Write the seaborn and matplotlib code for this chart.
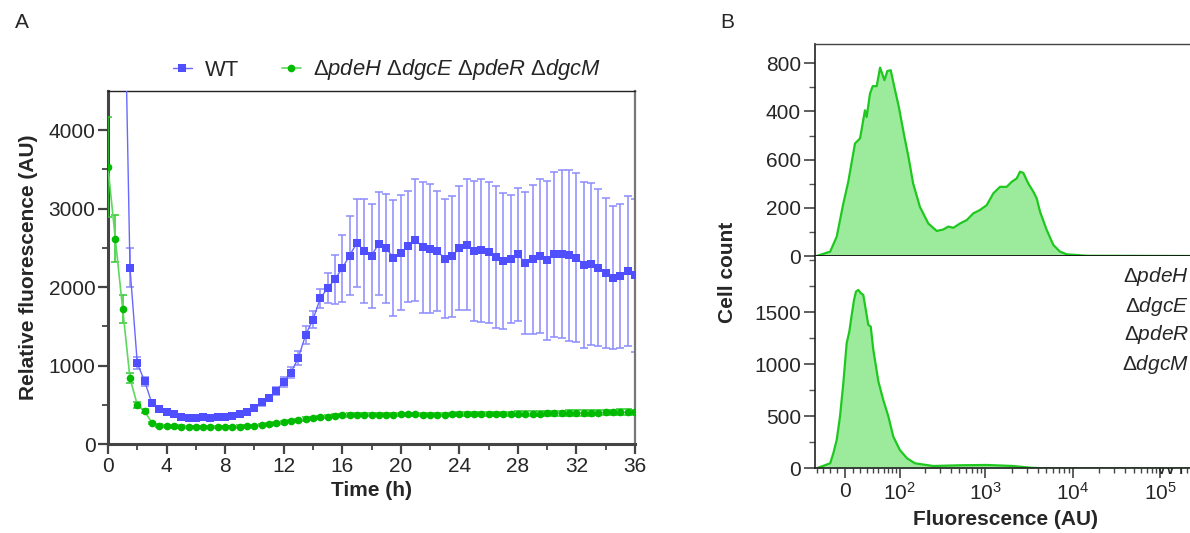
import numpy as np
import pandas as pd
import matplotlib
matplotlib.use("Agg")
import matplotlib.pyplot as plt
import seaborn as sns
from matplotlib.ticker import FixedLocator
from matplotlib.lines import Line2D

# ---------------- data ----------------
time_h = [0, 0.5, 1, 1.5, 2, 2.5, 3, 3.5, 4, 4.5, 5, 5.5, 6, 6.5, 7, 7.5, 8, 8.5, 9, 9.5,
          10, 10.5, 11, 11.5, 12, 12.5, 13, 13.5, 14, 14.5, 15, 15.5, 16, 16.5, 17, 17.5,
          18, 18.5, 19, 19.5, 20, 20.5, 21, 21.5, 22, 22.5, 23, 23.5, 24, 24.5, 25, 25.5,
          26, 26.5, 27, 27.5, 28, 28.5, 29, 29.5, 30, 30.5, 31, 31.5, 32, 32.5, 33, 33.5,
          34, 34.5, 35, 35.5, 36]

wt_mean = [12000, 10000, 7200, 2250, 1030, 800, 520, 450, 410, 380, 350, 330, 330, 340, 330, 340,
           345, 360, 380, 410, 460, 530, 590, 680, 790, 911, 1098, 1390, 1585, 1855, 1988, 2100,
           2240, 2402, 2562, 2460, 2402, 2554, 2496, 2374, 2440, 2518, 2604, 2509, 2492, 2460,
           2363, 2395, 2496, 2543, 2460, 2469, 2443, 2384, 2333, 2358, 2418, 2308, 2355, 2397,
           2342, 2418, 2418, 2405, 2376, 2282, 2295, 2249, 2181, 2122, 2142, 2206, 2151]
wt_sd = [0, 0, 0, 250, 80, 60, 40, 30, 30, 30, 30, 30, 30, 30, 30, 30,
         30, 30, 30, 40, 40, 40, 40, 50, 60, 70, 90, 120, 110, 127, 195, 310,
         425, 508, 555, 667, 663, 656, 695, 736, 735, 708, 775, 833, 822, 768,
         760, 770, 793, 834, 894, 911, 898, 902, 864, 820, 849, 900, 953, 980,
         1010, 1052, 1072, 1091, 1082, 1057, 1027, 1006, 960, 917, 913, 961, 975]

mut_mean = [3530, 2614, 1725, 840, 500, 420, 270, 235, 230, 225, 222, 220, 218, 218, 218, 218,
            218, 220, 222, 225, 232, 240, 250, 262, 275, 290, 305, 318, 330, 340, 350, 358,
            365, 370, 372, 372, 372, 372, 375, 375, 378, 378, 378, 376, 376, 376, 376, 377,
            378, 378, 380, 380, 380, 382, 382, 383, 385, 386, 388, 388, 390, 391, 392, 394,
            395, 396, 398, 400, 402, 404, 406, 405, 403]
mut_sd = [640, 300, 180, 60, 40, 30, 15, 15, 15, 15, 15, 15, 15, 15, 15, 15,
          15, 15, 15, 15, 15, 15, 15, 15, 15, 15, 20, 20, 20, 20, 20, 20,
          20, 20, 20, 20, 20, 20, 20, 20, 20, 20, 20, 20, 20, 20, 20, 20,
          25, 25, 25, 25, 25, 25, 25, 25, 30, 30, 30, 30, 35, 35, 35, 35,
          35, 35, 35, 35, 35, 35, 35, 35, 35]

# flow cytometry histograms (fluorescence AU, cell count)
wt_fl = [-41, -20, -11, -2.2, 4.3, 13.3, 20.3, 27.5, 30.1, 35.3, 39.8, 46.7, 53, 61.7, 68.1,
         75.8, 83.7, 97, 113, 128, 146, 176, 221, 277, 330, 377, 431, 514, 614, 731, 872,
         1040, 1238, 1477, 1761, 2010, 2292, 2500, 2727, 3110, 3548, 3880, 4233, 5047,
         6005, 7163, 8544, 14470, 250000]
wt_count = [0, 18, 80, 218, 308, 467, 488, 605, 577, 674, 705, 705, 782, 730, 768,
            771, 709, 619, 502, 412, 301, 204, 135, 104, 110, 122, 117, 135, 149, 177, 191,
            211, 260, 287, 287, 308, 322, 350, 345, 301, 267, 239, 184, 108,
            46, 18, 7, 1, 0]

mut_fl = [-41, -20, -15.6, -11, -6.6, -2.2, 2.2, 5.7, 8.9, 12, 14.7, 17.9, 21.3, 25, 27.5,
          32.6, 36.5, 40.8, 49.8, 59.3, 70.4, 82, 100, 123, 154, 253, 514, 1040, 2097,
          3253, 4616, 250000]
mut_count = [0, 48, 144, 272, 497, 817, 1202, 1314, 1474, 1618, 1699, 1714, 1683, 1666, 1570,
             1378, 1362, 1138, 834, 657, 497, 305, 176, 96, 48, 22, 29, 32, 22,
             6, 0, 0]

left_yticks = [0, 1000, 2000, 3000, 4000]
left_xticks = [0, 4, 8, 12, 16, 20, 24, 28, 32, 36]
top_yticks = [0, 200, 400, 600, 800]
top_ylabels = ["0", "200", "600", "400", "800"]
bot_yticks = [0, 500, 1000, 1500]
fl_ticks = [0, 100, 1000, 10000, 100000]
fl_labels = ["0", "$10^{2}$", "$10^{3}$", "$10^{4}$", "$10^{5}$"]
mutant_lines = ["pdeH", "dgcE", "pdeR", "dgcM"]

# ---------------- style ----------------
sns.set_theme(style="ticks")
plt.rcParams["font.family"] = ["Liberation Sans", "DejaVu Sans"]
plt.rcParams["mathtext.fontset"] = "custom"
plt.rcParams["mathtext.rm"] = "Liberation Sans"
plt.rcParams["mathtext.it"] = "Liberation Sans:italic"
plt.rcParams["mathtext.bf"] = "Liberation Sans:bold"
plt.rcParams["axes.unicode_minus"] = False

W, H = 1190, 533
fig = plt.figure(figsize=(W / 100, H / 100), dpi=100)
fig.patch.set_facecolor("white")

def box(x0, y0, x1, y1):
    return [x0 / W, 1 - y1 / H, (x1 - x0) / W, (y1 - y0) / H]

FS = 15
WT_LINE = "#6868ff"
WT_MARK = "#4f4fff"
WT_ERR = "#8c8cff"
MU_LINE = "#5fd85f"
MU_MARK = "#00bb00"
MU_ERR = "#2fc82f"

# ---------------- panel A ----------------
ax = fig.add_axes(box(108, 91, 635, 444))
df_wt = pd.DataFrame({"t": time_h, "v": wt_mean, "e": wt_sd})
df_mu = pd.DataFrame({"t": time_h, "v": mut_mean, "e": mut_sd})

ax.errorbar(df_wt["t"], df_wt["v"], yerr=df_wt["e"], fmt="none", ecolor=WT_ERR,
            elinewidth=1.1, capsize=3, capthick=1.1, zorder=2)
sns.lineplot(data=df_wt, x="t", y="v", ax=ax, color=WT_LINE, lw=1.0, marker="s",
             markersize=6, markeredgewidth=0, markerfacecolor=WT_MARK, zorder=3)
ax.errorbar(df_mu["t"], df_mu["v"], yerr=df_mu["e"], fmt="none", ecolor=MU_ERR,
            elinewidth=1.1, capsize=3, capthick=1.1, zorder=4)
sns.lineplot(data=df_mu, x="t", y="v", ax=ax, color=MU_LINE, lw=1.2, marker="o",
             markersize=5.5, markeredgewidth=0, markerfacecolor=MU_MARK, zorder=5)

ax.set_xlim(0, 36)
ax.set_ylim(0, 4500)
ax.set_xticks(left_xticks)
ax.xaxis.set_minor_locator(FixedLocator([2, 6, 10, 14, 18, 22, 26, 30, 34]))
ax.set_yticks(left_yticks)
ax.yaxis.set_minor_locator(FixedLocator([500, 1500, 2500, 3500]))
for s in ["left", "bottom"]:
    ax.spines[s].set_linewidth(2.2)
    ax.spines[s].set_color("#444444")
ax.spines["top"].set_linewidth(1.0)
ax.spines["top"].set_color("#222222")
ax.spines["right"].set_linewidth(1.6)
ax.spines["right"].set_color("#777777")
ax.tick_params(axis="both", which="major", length=7, width=1.6, color="#444444",
               labelsize=FS, pad=2, direction="out")
ax.tick_params(axis="both", which="minor", length=4, width=1.3, color="#444444",
               direction="out")
ax.tick_params(top=False, right=False, which="both")
ax.set_xlabel("Time (h)", fontsize=FS, fontweight="bold", labelpad=4)
ax.set_ylabel("Relative fluorescence (AU)", fontsize=FS, fontweight="bold", labelpad=8)
ax.grid(False)

mut_label = " ".join("\u0394$\\mathit{%s}$" % g for g in mutant_lines)
handles = [
    Line2D([], [], color=WT_LINE, lw=1.0, marker="s", markersize=6,
           markeredgewidth=0, markerfacecolor=WT_MARK),
    Line2D([], [], color=MU_LINE, lw=1.2, marker="o", markersize=5.5,
           markeredgewidth=0, markerfacecolor=MU_MARK),
]
fig.legend(handles, ["WT", mut_label], loc="center left",
           bbox_to_anchor=(173 / W, 1 - 70 / H), ncol=2, frameon=False,
           fontsize=15.8, handlelength=0.86, handletextpad=0.59, columnspacing=1.94,
           borderpad=0, borderaxespad=0)

fig.text(15 / W, 1 - 22 / H, "A", fontsize=FS, ha="left", va="center")
fig.text(720 / W, 1 - 22 / H, "B", fontsize=FS, ha="left", va="center")

# ---------------- panel B ----------------
FILL = "#9ceb9c"
EDGE = "#1ec81e"
xl = (-43.7, 256500)

axT = fig.add_axes(box(815, 44, 1196, 256))
axB = fig.add_axes(box(815, 256, 1196, 468.3))

for a, fl, cnt in [(axT, wt_fl, wt_count), (axB, mut_fl, mut_count)]:
    a.set_xscale("asinh", linear_width=50)
    a.fill_between(fl, cnt, 0, color=FILL, lw=0, zorder=1)
    sns.lineplot(x=fl, y=cnt, ax=a, color=EDGE, lw=1.6, zorder=2, sort=False)
    a.set_xlim(*xl)
    a.grid(False)
    a.set_xlabel("")
    a.set_ylabel("")
    a.spines["right"].set_visible(False)
    a.spines["left"].set_linewidth(1.2)
    a.spines["left"].set_color("#222222")
    a.tick_params(axis="y", which="major", length=8, width=1.1, color="#333333",
                  labelsize=FS, pad=2)
    a.tick_params(axis="y", which="minor", length=4, width=1.0, color="#555555")

axT.set_ylim(0, 880)
axT.set_yticks(top_yticks)
axT.set_yticklabels(top_ylabels)
axT.yaxis.set_minor_locator(FixedLocator([100, 300, 500, 700]))
axT.tick_params(axis="x", which="both", bottom=False, labelbottom=False)
axT.spines["top"].set_linewidth(1.0)
axT.spines["top"].set_color("#444444")
axT.spines["bottom"].set_linewidth(1.3)
axT.spines["bottom"].set_color("#111111")
axT.text(1188, 65, "WT", transform=None, fontsize=FS, ha="right", va="center")

axB.set_ylim(0, 2040)
axB.set_yticks(bot_yticks)
axB.yaxis.set_minor_locator(FixedLocator([250, 750, 1250, 1750, 2000]))
axB.spines["top"].set_visible(False)
axB.spines["bottom"].set_linewidth(1.2)
axB.spines["bottom"].set_color("#222222")
axB.set_xticks(fl_ticks)
axB.set_xticklabels(fl_labels)
fl_minor = [-40, -30, -20, -10, 10, 20, 30, 40, 50, 60, 70, 80, 90,
            200, 300, 400, 500, 600, 700, 800, 900,
            2000, 3000, 4000, 5000, 6000, 7000, 8000, 9000,
            20000, 30000, 40000, 50000, 60000, 70000, 80000, 90000, 200000]
axB.xaxis.set_minor_locator(FixedLocator(fl_minor))
axB.xaxis.set_minor_formatter(plt.NullFormatter())
axB.tick_params(axis="x", which="major", length=7, width=1.1, color="#333333",
                labelsize=FS, pad=3)
axB.tick_params(axis="x", which="minor", length=3.5, width=1.0, color="#444444")
axB.set_xlabel("Fluorescence (AU)", fontsize=FS, fontweight="bold", labelpad=4)

for i, g in enumerate(mutant_lines):
    fig.text(1189 / W, 1 - (277 + 29 * i) / H, "\u0394$\\mathit{%s}$" % g,
             fontsize=FS, ha="right", va="center")

fig.text(727 / W, 1 - 272 / H, "Cell count", fontsize=FS, fontweight="bold",
         rotation=90, ha="center", va="center")

fig.savefig("out.png", dpi=100, facecolor="white")
